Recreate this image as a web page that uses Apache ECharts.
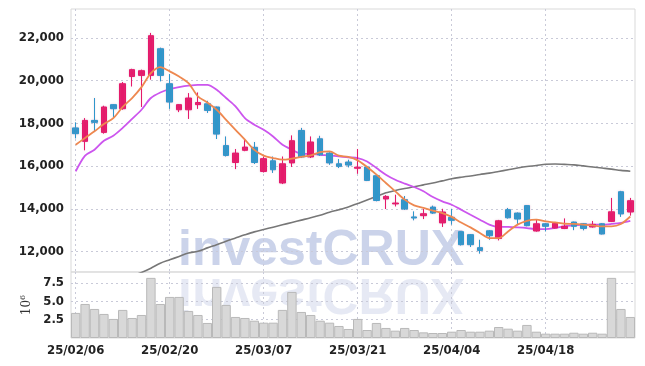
<!DOCTYPE html>
<html>
<head>
<meta charset="utf-8">
<script src="https://cdn.jsdelivr.net/npm/echarts@6/dist/echarts.min.js"></script>
<style>
html,body{margin:0;padding:0;background:#fff;}
#chart{width:645px;height:366px;}
</style>
</head>
<body>
<div id="chart"></div>
<script>
const dates = ['25/02/06','25/02/07','25/02/10','25/02/11','25/02/12','25/02/13','25/02/14','25/02/17','25/02/18','25/02/19',
'25/02/20','25/02/21','25/02/24','25/02/25','25/02/26','25/02/27','25/02/28','25/03/04','25/03/05','25/03/06',
'25/03/07','25/03/10','25/03/11','25/03/12','25/03/13','25/03/14','25/03/17','25/03/18','25/03/19','25/03/20',
'25/03/21','25/03/24','25/03/25','25/03/26','25/03/27','25/03/28','25/03/31','25/04/01','25/04/02','25/04/03',
'25/04/04','25/04/07','25/04/08','25/04/09','25/04/10','25/04/11','25/04/14','25/04/15','25/04/16','25/04/17',
'25/04/18','25/04/21','25/04/22','25/04/23','25/04/24','25/04/25','25/04/28','25/04/29','25/04/30','25/05/02'];

const openP  = [17790,17160,18140,17580,18880,18690,20200,20250,20250,21500,
19860,18640,18640,18880,18920,18770,16960,16170,16740,16880,
15750,16250,15210,16150,17670,16430,17280,16610,16110,16190,
15900,15960,15550,14460,14230,14430,13620,13680,14080,13340,
13600,12930,12790,12180,12970,12610,13960,13800,14150,12960,
13300,13100,13080,13380,13300,13150,13300,13410,14800,13850];
const closeP = [17520,18140,18050,18770,18690,19860,20520,20470,22110,20250,
19000,18880,19190,18980,18610,17500,16500,16610,16890,16170,
16350,15830,16110,17190,16430,17130,16530,16150,15990,16050,
15950,15330,14390,14580,14270,13990,13570,13770,13800,13850,
13460,12320,12320,12050,12740,13440,13580,13520,13210,13300,
13180,13320,13180,13180,13080,13270,12820,13860,13760,14380];
const lowP   = [17300,16740,17630,17520,18250,18640,19730,18770,20050,19970,
18680,18530,18210,18680,18490,17270,16450,15860,16700,16100,
15700,15680,15160,15960,16380,16380,16480,16060,15910,15940,
15640,15300,14350,13990,14110,13950,13460,13520,13760,13150,
13260,12280,12210,11900,12550,12520,13540,13290,13180,12930,
12940,13080,13050,13000,12990,13120,12800,13380,13620,13680];
const highP  = [18050,18250,19190,18830,18900,19940,20560,20520,22240,21550,
20310,18900,19420,19450,19060,18790,17390,16800,17270,17130,
16450,16450,16450,17440,17790,17390,17420,16650,16330,16300,
16800,16000,15600,14640,14660,14600,13880,13990,14150,14000,
14000,12960,12820,12550,13000,13480,14040,13830,14170,13490,
13330,13380,13550,13400,13330,13430,13330,14510,14840,14510];

const ma5  = [17000,17320,17630,17970,18250,18770,19190,19700,20360,20640,
20440,20200,19890,19270,18980,18640,18170,17700,17240,16760,
16490,16380,16300,16350,16430,16500,16660,16690,16490,16430,
16270,15960,15600,15210,14820,14430,14160,14040,13910,13800,
13620,13360,13130,12870,12630,12630,12940,13260,13440,13490,
13410,13360,13300,13290,13260,13220,13180,13180,13290,13640];
const ma20 = [15750,16490,16770,17190,17420,17790,18210,18640,19190,19450,
19610,19700,19770,19810,19810,19580,19190,18800,18250,17940,
17700,17390,17000,16770,16580,16570,16530,16500,16460,16410,
16380,16220,15910,15600,15360,15180,15020,14820,14550,14350,
14190,13960,13720,13490,13260,13150,13150,13130,13100,13050,
13050,13100,13180,13220,13260,13260,13260,13290,13340,13440];
const maLong = [9800,9970,10150,10320,10500,10670,10850,11020,11220,11450,
11610,11770,11930,12010,12170,12320,12480,12630,12780,12920,
13030,13140,13250,13360,13470,13580,13700,13840,13960,14090,
14250,14410,14580,14750,14860,14950,15030,15120,15210,15310,
15410,15480,15540,15610,15670,15750,15830,15910,15980,16030,
16090,16100,16080,16060,16010,15960,15910,15860,15800,15760];

const volume = [3.42,4.64,3.96,3.28,2.60,3.83,2.73,3.14,8.20,4.64,
5.60,5.60,3.69,3.14,2.05,6.97,4.51,2.87,2.73,2.36,
2.09,2.09,3.83,6.28,3.55,3.14,2.36,2.09,1.64,1.23,
2.60,1.09,2.05,1.37,1.00,1.37,1.09,0.77,0.68,0.68,
0.86,1.09,0.86,0.86,1.00,1.50,1.27,1.00,1.78,0.86,
0.59,0.59,0.59,0.72,0.59,0.72,0.59,8.20,3.96,2.87];

const ohlc = openP.map((o, i) => [o, closeP[i], lowP[i], highP[i]]);

const FONT = '"DejaVu Sans Condensed", "DejaVu Sans", sans-serif';
const gridLineStyle = { color: '#c9cad8', type: [2, 3], width: 1 };

const chart = echarts.init(document.getElementById('chart'), null, { renderer: 'canvas' });
chart.setOption({
  animation: false,
  backgroundColor: '#fff',
  graphic: [
    {
      type: 'text', x: 178, y: 226, z: -10, silent: true,
      style: { text: 'investCRUX', font: 'bold 50px "Liberation Sans"', fill: 'rgba(188,198,228,0.78)' }
    },
    {
      type: 'text', x: 178, y: 226, z: -10, silent: true,
      scaleY: -1, originX: 0, originY: 46,
      style: { text: 'investCRUX', font: 'bold 50px "Liberation Sans"', fill: 'rgba(200,207,230,0.45)' }
    }
  ],
  grid: [
    { left: 71, right: 10, top: 9, height: 263, show: true, borderColor: '#d9d9d9', borderWidth: 1 },
    { left: 71, right: 10, top: 272, height: 66, show: true, borderColor: '#d9d9d9', borderWidth: 1 }
  ],
  xAxis: [
    {
      type: 'category', data: dates, gridIndex: 0, boundaryGap: true,
      axisLine: { show: false }, axisTick: { show: false }, axisLabel: { show: false },
      splitLine: { show: true, interval: 9, alignWithLabel: true, lineStyle: gridLineStyle }
    },
    {
      type: 'category', data: dates, gridIndex: 1, boundaryGap: true,
      axisLine: { show: false }, axisTick: { show: false },
      axisLabel: { interval: 9, margin: 6, fontFamily: FONT, fontSize: 13, fontWeight: 'bold', color: '#222' },
      splitLine: { show: true, interval: 9, alignWithLabel: true, lineStyle: gridLineStyle }
    }
  ],
  yAxis: [
    {
      type: 'value', gridIndex: 0, min: 11040, max: 23360, splitNumber: 6, scale: true,
      axisLine: { show: false }, axisTick: { show: false },
      axisLabel: { showMinLabel: false, showMaxLabel: false, margin: 7, padding: [5, 0, 0, 0],
        fontFamily: FONT, fontSize: 13, fontWeight: 'bold', color: '#222',
        formatter: v => v.toLocaleString('en-US') },
      splitLine: { show: true, showMinLine: false, showMaxLine: false, lineStyle: gridLineStyle }
    },
    {
      type: 'value', gridIndex: 1, min: 0, max: 9, interval: 2.5,
      name: '10{sup|6}', nameLocation: 'middle', nameRotate: 90, nameGap: 34,
      nameTextStyle: { fontFamily: 'DejaVu Serif', fontSize: 12, color: '#333',
        rich: { sup: { fontFamily: 'DejaVu Serif', fontSize: 8, verticalAlign: 'top', padding: [0, 0, 7, 0], color: '#333' } } },
      axisLine: { show: false }, axisTick: { show: false },
      axisLabel: { showMinLabel: false, showMaxLabel: false, margin: 7, padding: [4, 0, 0, 0],
        fontFamily: FONT, fontSize: 13, fontWeight: 'bold', color: '#222',
        formatter: v => v.toFixed(1) },
      splitLine: { show: true, showMinLine: false, showMaxLine: false, lineStyle: gridLineStyle }
    }
  ],
  series: [
    {
      type: 'bar', xAxisIndex: 1, yAxisIndex: 1, data: volume, barCategoryGap: '0%', z: 2,
      itemStyle: { color: '#d8d8d8', borderColor: '#b9b9b9', borderWidth: 1 }
    },
    {
      type: 'line', xAxisIndex: 0, yAxisIndex: 0, data: maLong, symbol: 'none', smooth: 0.3, z: 3,
      lineStyle: { color: '#777777', width: 1.6 }
    },
    {
      type: 'line', xAxisIndex: 0, yAxisIndex: 0, data: ma20, symbol: 'none', smooth: 0.3, z: 3,
      lineStyle: { color: '#cc55ee', width: 1.8 }
    },
    {
      type: 'candlestick', xAxisIndex: 0, yAxisIndex: 0, data: ohlc, barWidth: 6, z: 4,
      itemStyle: {
        color: '#e5196a', color0: '#2e97cb', borderColor: '#e5196a', borderColor0: '#2e97cb', borderWidth: 1,
        shadowColor: 'rgba(200,120,170,0.35)', shadowBlur: 2
      }
    },
    {
      type: 'line', xAxisIndex: 0, yAxisIndex: 0, data: ma5, symbol: 'none', smooth: 0.3, z: 5,
      lineStyle: { color: '#ee8850', width: 1.8 }
    }
  ]
});
</script>
</body>
</html>
